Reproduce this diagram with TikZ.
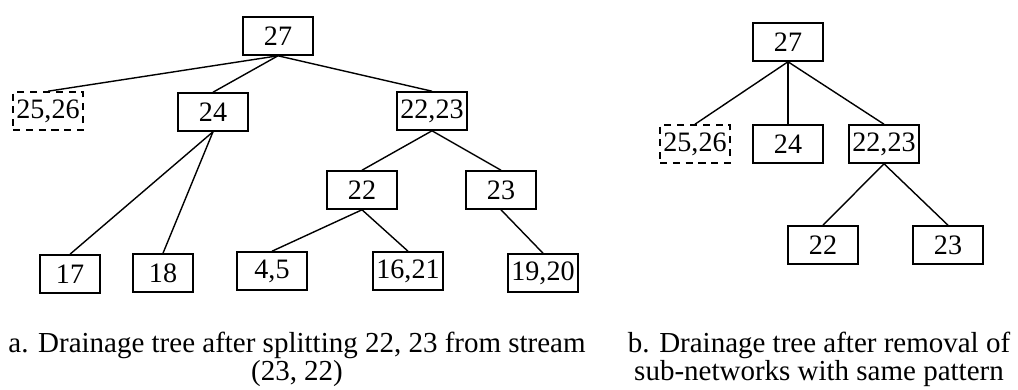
\documentclass[tikz,border=0pt]{standalone}
\usepackage{fontspec}
\setmainfont{Liberation Serif}
\usetikzlibrary{positioning}

\begin{document}
\begin{tikzpicture}[
    x=0.02cm, y=-0.02cm,
    basin/.style={draw, line width=0.9pt, minimum width=1.4cm, minimum height=0.76cm, inner sep=0pt, font=\fontsize{16}{18}\selectfont},
    leaf/.style={basin, minimum width=1.2cm},
    removed/.style={basin, dash pattern=on 4pt off 3.3pt},
    link/.style={line width=0.8pt},
    captxt/.style={align=center, anchor=north, inner sep=0pt, font=\fontsize{16.5}{15.9}\selectfont},
]
\useasboundingbox (0,0) rectangle (1018,389);

% (a) tree after splitting 22,23
\node[basin]   (a27)   at (278,36)  {27};
\node[removed] (a2526) at (48,111)  {25,26};
\node[basin]   (a24)   at (213,112) {24};
\node[basin]   (a2223) at (432,111) {22,23};
\node[basin]   (a22)   at (362,190) {22};
\node[basin]   (a23)   at (501,190) {23};
\node[leaf]    (a17)   at (70,274)  {17};
\node[leaf]    (a18)   at (163,273) {18};
\node[basin]   (a45)   at (272,271) {4,5};
\node[basin]   (a1621) at (408,271) {16,21};
\node[basin]   (a1920) at (543,273) {19,20};

\draw[link] (a27.south) -- (a2526.north);
\draw[link] (a27.south) -- (a24.north);
\draw[link] (a27.south) -- (a2223.north);
\draw[link] (a24.south) -- (a17.north);
\draw[link] (a24.south) -- (a18.north);
\draw[link] (a2223.south) -- (a22.north);
\draw[link] (a2223.south) -- (a23.north);
\draw[link] (a22.south) -- (a45.north);
\draw[link] (a22.south) -- (a1621.north);
\draw[link] (a23.south) -- (a1920.north);

% (b) tree after removing repeated sub-networks
\node[basin]   (b27)   at (788,42)  {27};
\node[removed] (b2526) at (695,144) {25,26};
\node[basin]   (b24)   at (788,144) {24};
\node[basin]   (b2223) at (884,144) {22,23};
\node[basin]   (b22)   at (823,245) {22};
\node[basin]   (b23)   at (948,245) {23};

\draw[link] (b27.south) -- (b2526.north);
\draw[link] (b27.south) -- (b24.north);
\draw[link] (b27.south) -- (b2223.north);
\draw[link] (b2223.south) -- (b22.north);
\draw[link] (b2223.south) -- (b23.north);

% captions
\node[captxt] (capa) at (297,332) {a. Drainage tree after splitting 22, 23 from stream\\(23, 22)};
\node[captxt] (capb) at (819,332) {b. Drainage tree after removal of\\sub-networks with same pattern};

\end{tikzpicture}
\end{document}
